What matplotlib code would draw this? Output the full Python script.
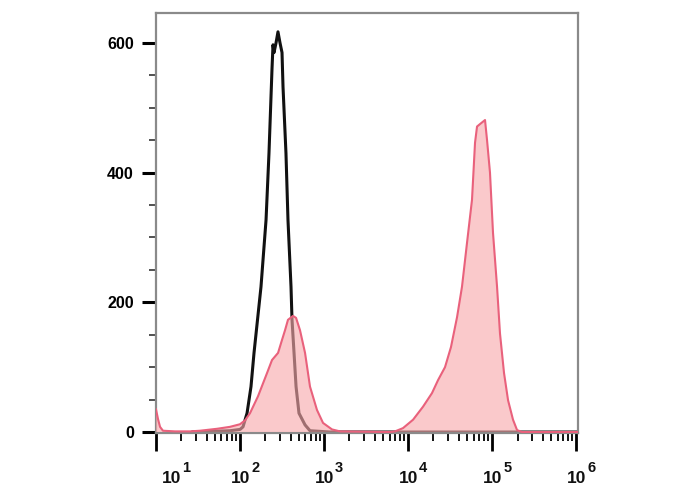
import numpy as np
import matplotlib
matplotlib.use("Agg")
import matplotlib.pyplot as plt
from matplotlib.ticker import FixedLocator, LogLocator, NullFormatter

plt.rcParams['font.family'] = ['Liberation Sans', 'DejaVu Sans']

# Control (unstained / isotype) histogram: log10 fluorescence vs count
control_log = [1.44, 1.88, 2.00, 2.035, 2.083, 2.13, 2.166, 2.249, 2.309, 2.344,
               2.38, 2.392, 2.404, 2.428, 2.451, 2.475, 2.499, 2.511, 2.546, 2.57,
               2.606, 2.618, 2.642, 2.666, 2.701, 2.773, 2.832, 3.07, 6.02]
control_count = [0, 2, 4, 8, 29, 70, 122, 224, 327, 430,
                 560, 597, 585, 600, 617, 600, 585, 532, 430, 327,
                 224, 173, 122, 70, 29, 11, 2, 0, 0]

# Stained sample histogram
sample_log = [1.0, 1.024, 1.048, 1.083, 1.226, 1.404, 1.523, 1.726, 1.88, 1.999,
              2.059, 2.118, 2.213, 2.273, 2.321, 2.38, 2.452, 2.499, 2.535, 2.57,
              2.63, 2.666, 2.713, 2.773, 2.832, 2.915, 2.987, 3.094, 3.189, 3.784,
              3.843, 3.938, 4.058, 4.176, 4.283, 4.355, 4.438, 4.509, 4.581, 4.64,
              4.70, 4.759, 4.795, 4.819, 4.866, 4.914, 4.938, 4.973, 5.009, 5.057,
              5.092, 5.14, 5.188, 5.247, 5.295, 5.354, 6.02]
sample_count = [35, 20, 8, 2, 1, 1, 2, 5, 8, 12,
                18, 29, 55, 75, 91, 111, 122, 142, 157, 173,
                179, 176, 157, 122, 70, 34, 14, 4, 1, 0,
                1, 6, 19, 39, 60, 80, 100, 131, 177, 224,
                292, 358, 446, 471, 476, 481, 450, 400, 307, 224,
                152, 91, 49, 19, 3, 0, 0]

x_ticks = [1e1, 1e2, 1e3, 1e4, 1e5, 1e6]
x_tick_base = ['10', '10', '10', '10', '10', '10']
x_tick_exp = ['1', '2', '3', '4', '5', '6']
y_ticks = [0, 200, 400, 600]
y_tick_labels = ['0', '200', '400', '600']

fig = plt.figure(figsize=(6.88, 4.90), dpi=100)
ax = fig.add_axes([156/688, 57/490, 422/688, 420/490])

cx = 10 ** np.array(control_log)
sx = 10 ** np.array(sample_log)

ax.plot(cx, control_count, color='#111111', lw=2.2, zorder=2)
ax.fill_between(sx, sample_count, 0, facecolor='#f7a9ab', alpha=0.62,
                edgecolor='none', zorder=3)
ax.plot(sx, sample_count, color='#e9617c', lw=1.5, zorder=4)

ax.set_xscale('log')
ax.set_xlim(10, 10 ** 6.02)
ax.set_ylim(-1.5, 646)

ax.set_xticks(x_ticks)
ax.set_xticklabels([''] * len(x_ticks))
ax.xaxis.set_minor_locator(LogLocator(base=10, subs=np.arange(2, 10)))
ax.xaxis.set_minor_formatter(NullFormatter())

# x tick labels: "10" with a raised exponent
for i, (xv, b, e) in enumerate(zip(x_ticks, x_tick_base, x_tick_exp)):
    shift = 25 if i == 0 else 10
    ax.annotate(b, xy=(xv, 0), xycoords=('data', 'axes fraction'),
                xytext=(shift, -50), textcoords='offset pixels',
                ha='right', va='baseline', fontsize=12.5, fontweight='bold',
                color='#111111', annotation_clip=False)
    ax.annotate(e, xy=(xv, 0), xycoords=('data', 'axes fraction'),
                xytext=(shift + 1, -28), textcoords='offset pixels',
                ha='left', va='top', fontsize=10.5, fontweight='bold',
                color='#111111', annotation_clip=False)

ax.set_yticks(y_ticks)
ax.set_yticklabels(y_tick_labels, fontsize=11.5, fontweight='bold')
ax.yaxis.set_minor_locator(FixedLocator(np.arange(50, 646, 50)))

ax.tick_params(axis='x', which='major', length=13, width=2, color='black',
               direction='out')
ax.tick_params(axis='x', which='minor', length=6, width=1.3, color='black',
               direction='out')
ax.tick_params(axis='y', which='major', length=10, width=2.2, color='black',
               pad=6, direction='out')
ax.tick_params(axis='y', which='minor', length=5, width=1.2, color='#333333',
               direction='out')

for s in ['top', 'right', 'left', 'bottom']:
    ax.spines[s].set_color('#8a8a8a')
    ax.spines[s].set_linewidth(1.6)

fig.savefig('out.png', dpi=100)
